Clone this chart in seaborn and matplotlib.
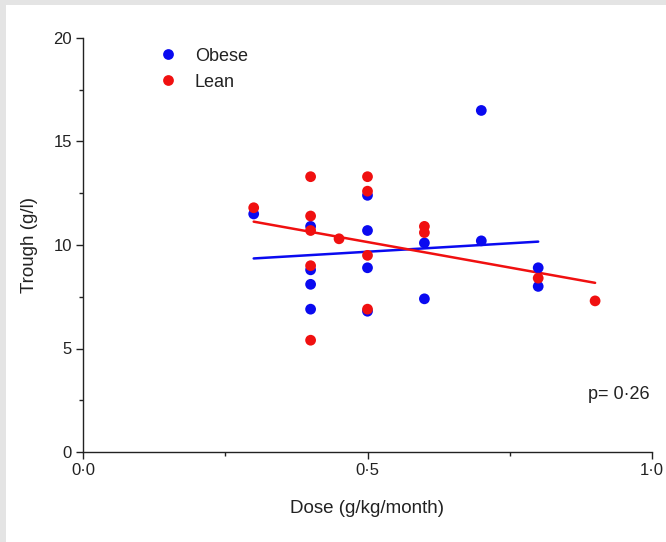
import numpy as np
import pandas as pd
import matplotlib
matplotlib.use("Agg")
import matplotlib.pyplot as plt
import seaborn as sns
from matplotlib.ticker import MultipleLocator, FixedLocator, FixedFormatter
from matplotlib.patches import Rectangle

# ---- data ----
obese_dose = [0.3, 0.4, 0.4, 0.4, 0.4, 0.5, 0.5, 0.5, 0.5, 0.6, 0.6, 0.7, 0.7, 0.8, 0.8]
obese_trough = [11.5, 10.9, 8.8, 8.1, 6.9, 12.4, 10.7, 8.9, 6.8, 10.1, 7.4, 16.5, 10.2, 8.9, 8.0]
lean_dose = [0.3, 0.4, 0.4, 0.4, 0.4, 0.4, 0.45, 0.5, 0.5, 0.5, 0.5, 0.6, 0.6, 0.8, 0.9]
lean_trough = [11.8, 13.3, 11.4, 10.7, 9.0, 5.4, 10.3, 13.3, 12.6, 9.5, 6.9, 10.9, 10.6, 8.4, 7.3]
groups = ["Obese", "Lean"]
x_ticks = [0.0, 0.5, 1.0]
x_tick_labels = ["0\u00b70", "0\u00b75", "1\u00b70"]
y_ticks = [0, 5, 10, 15, 20]
p_label = "p= 0\u00b726"

df = pd.DataFrame({
    "dose": obese_dose + lean_dose,
    "trough": obese_trough + lean_trough,
    "group": [groups[0]] * len(obese_dose) + [groups[1]] * len(lean_dose),
})
palette = {"Obese": "#0a0af0", "Lean": "#f01010"}

sns.set_style("ticks")
plt.rcParams["font.family"] = ["Liberation Sans", "DejaVu Sans"]
plt.rcParams["text.color"] = "#222222"
plt.rcParams["axes.labelcolor"] = "#222222"
plt.rcParams["xtick.color"] = "#222222"
plt.rcParams["ytick.color"] = "#222222"

fig = plt.figure(figsize=(6.66, 5.42), dpi=100)
fig.patch.set_facecolor("#e4e4e4")
fig.patches.append(Rectangle((6 / 666, 0), 1, 1 - 5 / 542, transform=fig.transFigure,
                             facecolor="white", edgecolor="none", zorder=-10))
ax = fig.add_axes([83 / 666, 1 - 452 / 542, (652 - 83) / 666, (452 - 38) / 542])
ax.set_facecolor("none")

for g in groups:
    sub = df[df["group"] == g]
    sns.regplot(data=sub, x="dose", y="trough", ax=ax, scatter=False, ci=None,
                truncate=True, color=palette[g], line_kws={"lw": 1.8, "zorder": 2})

sns.scatterplot(data=df, x="dose", y="trough", hue="group", palette=palette,
                hue_order=groups, s=60, linewidth=0, ax=ax, zorder=3)

ax.set_xlim(0, 1.0)
ax.set_ylim(0, 20)
ax.xaxis.set_major_locator(FixedLocator(x_ticks))
ax.xaxis.set_major_formatter(FixedFormatter(x_tick_labels))
ax.xaxis.set_minor_locator(MultipleLocator(0.25))
ax.yaxis.set_major_locator(FixedLocator(y_ticks))
ax.yaxis.set_minor_locator(MultipleLocator(2.5))
ax.tick_params(which="major", length=5, width=1, labelsize=12, pad=3)
ax.tick_params(which="minor", length=3, width=1)
for s in ["top", "right"]:
    ax.spines[s].set_visible(False)
for s in ["left", "bottom"]:
    ax.spines[s].set_linewidth(1.0)
    ax.spines[s].set_color("#222222")
ax.set_xlabel("Dose (g/kg/month)", fontsize=13.5, labelpad=16)
ax.set_ylabel("Trough (g/l)", fontsize=13.5, labelpad=11)

handles, labels = ax.get_legend_handles_labels()
ax.legend(handles, labels, loc="upper left", bbox_to_anchor=(0.13, 0.977), frameon=False,
          fontsize=13, handlelength=1.2, handletextpad=0.9, borderpad=0, borderaxespad=0,
          labelspacing=0.5, markerscale=1.0)

ax.text(0.995, 0.138, p_label, transform=ax.transAxes, ha="right", va="center", fontsize=13)

fig.savefig("out.png", dpi=100, facecolor=fig.get_facecolor())
